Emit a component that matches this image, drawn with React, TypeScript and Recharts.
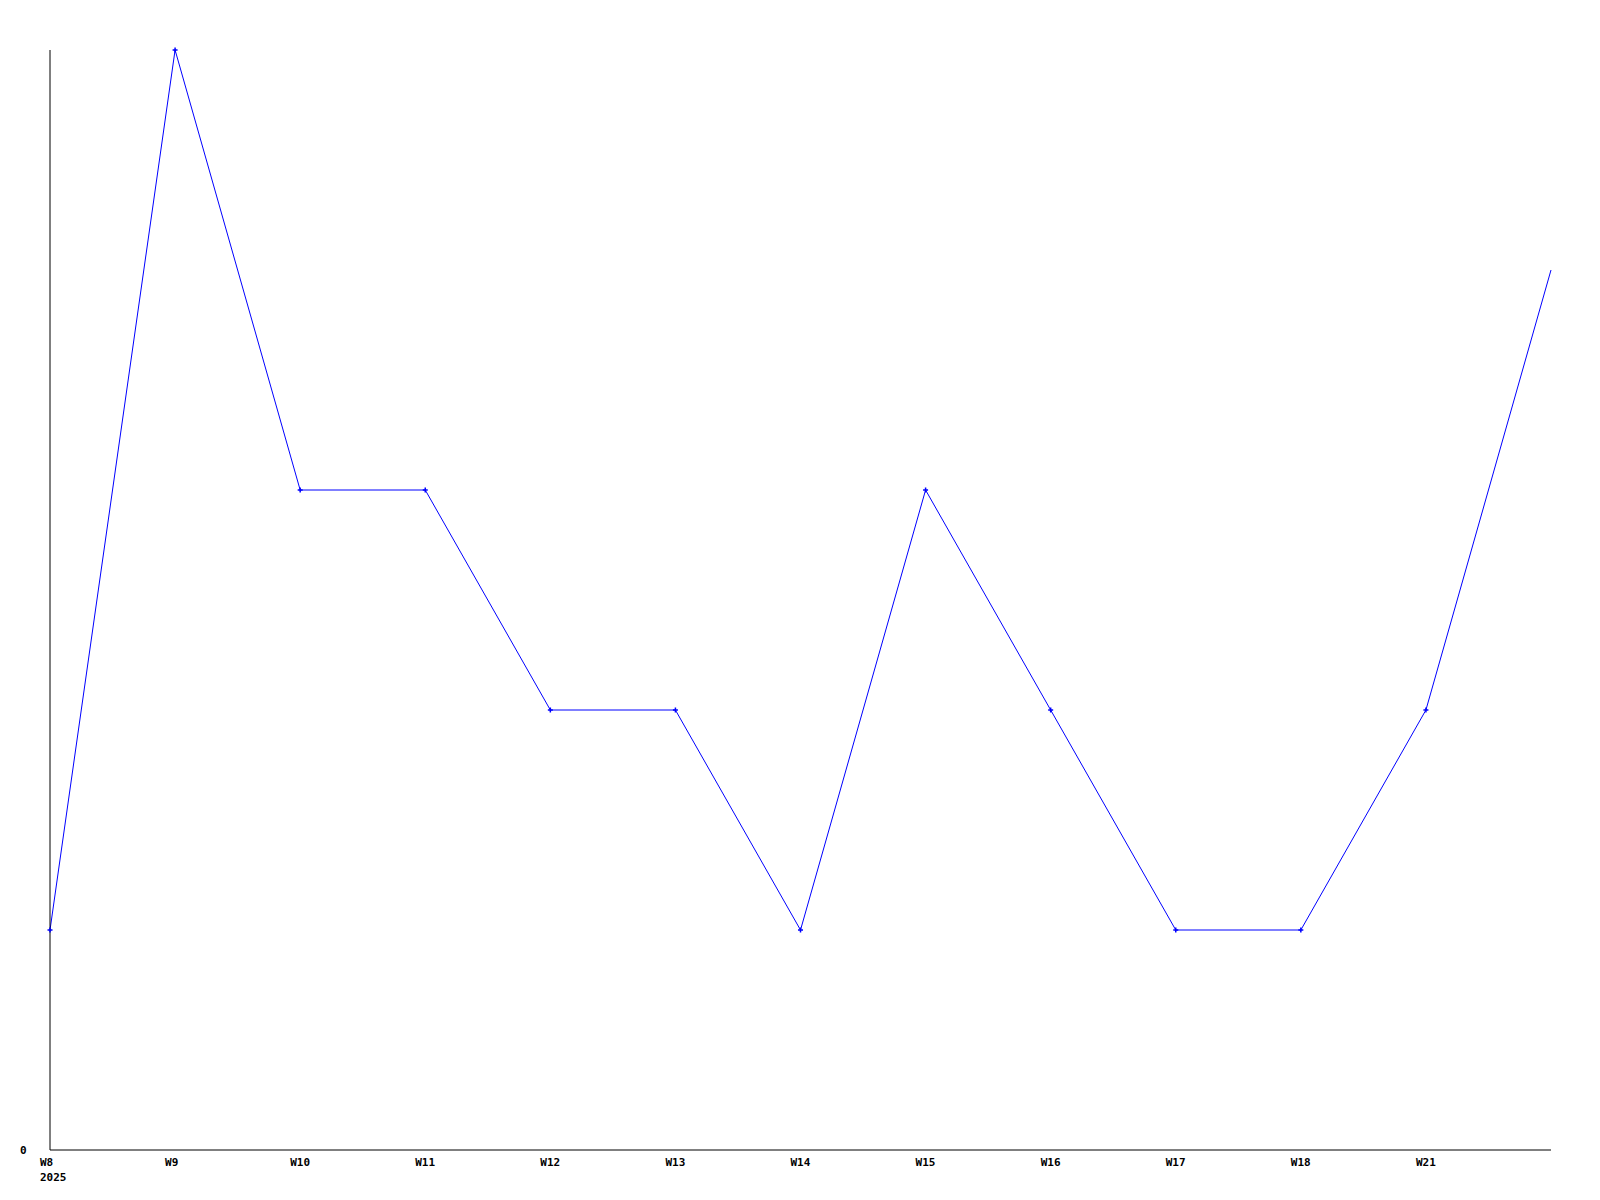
import { LineChart, Line, XAxis, YAxis } from "recharts"

const weeks = ["W8", "W9", "W10", "W11", "W12", "W13", "W14", "W15", "W16", "W17", "W18", "W21", "W22"]
const counts = [1, 5, 3, 3, 2, 2, 1, 3, 2, 1, 1, 2, 4]
const shownTicks = weeks.slice(0, 12)
const yearLabel = "2025"

const data = weeks.map((w, i) => ({ week: w, count: counts[i] }))

const font = "'DejaVu Sans Mono', monospace"

function WeekTick(props: any) {
  const { x, y, payload, index } = props
  return (
    <g>
      <text x={x - 10} y={y + 8} fontFamily={font} fontWeight="bold" fontSize={11} fill="#000" textAnchor="start">
        {payload.value}
      </text>
      {index === 0 && (
        <text x={x - 10} y={y + 23} fontFamily={font} fontWeight="bold" fontSize={11} fill="#000" textAnchor="start">
          {yearLabel}
        </text>
      )}
    </g>
  )
}

function CountTick(props: any) {
  const { y, payload } = props
  return (
    <text x={20} y={y + 4} fontFamily={font} fontWeight="bold" fontSize={11} fill="#000" textAnchor="start">
      {payload.value}
    </text>
  )
}

function PlusDot(props: any) {
  const { cx, cy, index } = props
  if (index === weeks.length - 1 || cx == null) return <g key={index} />
  return (
    <path
      key={index}
      d={`M${cx - 2.5},${cy} h5 M${cx},${cy - 2.5} v5`}
      stroke="#0000ff"
      strokeWidth={1.5}
      fill="none"
    />
  )
}

export default function App() {
  return (
    <div style={{ position: "absolute", left: 0, top: 0, width: 1600, height: 1200, background: "#fff" }}>
      <LineChart width={1600} height={1200} data={data} margin={{ top: 50, right: 49, left: 0, bottom: 0 }}>
        <XAxis
          dataKey="week"
          ticks={shownTicks}
          tick={<WeekTick />}
          tickLine={false}
          axisLine={{ stroke: "#000", strokeWidth: 1 }}
          height={50}
          interval={0}
        />
        <YAxis
          domain={[0, 5]}
          ticks={[0]}
          tick={<CountTick />}
          tickLine={false}
          axisLine={{ stroke: "#000", strokeWidth: 1 }}
          width={50}
        />
        <Line
          type="linear"
          dataKey="count"
          stroke="#0000ff"
          strokeWidth={1}
          dot={<PlusDot />}
          activeDot={false}
          isAnimationActive={false}
        />
      </LineChart>
    </div>
  )
}
